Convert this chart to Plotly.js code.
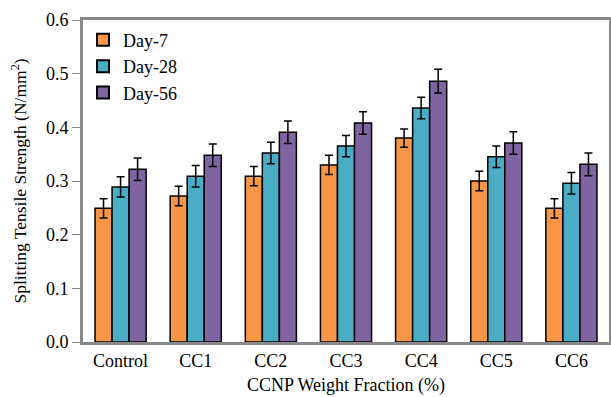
<!DOCTYPE html>
<html><head><meta charset="utf-8">
<script src="https://cdn.plot.ly/plotly-3.0.1.min.js"></script>
<style>body{margin:0;background:#fff}#chart{width:611px;height:397px}</style>
</head><body><div id="chart"></div>
<script>
const categories = ["Control","CC1","CC2","CC3","CC4","CC5","CC6"];
const day7  = [0.249,0.272,0.309,0.330,0.380,0.300,0.249];
const day28 = [0.289,0.309,0.352,0.365,0.436,0.345,0.296];
const day56 = [0.322,0.348,0.391,0.408,0.486,0.371,0.331];
const err7  = [0.018,0.018,0.018,0.018,0.017,0.018,0.018];
const err28 = [0.019,0.020,0.020,0.020,0.020,0.020,0.020];
const err56 = [0.021,0.021,0.021,0.021,0.022,0.021,0.021];
const seriesNames = ["Day-7","Day-28","Day-56"];
const colors = ["#F79646","#4BACC6","#8064A2"];

const vals=[day7,day28,day56], errs=[err7,err28,err56];
const traces = vals.map((v,i)=>({
  type:'bar', name:seriesNames[i], x:categories, y:v,
  marker:{color:colors[i], line:{color:'#000', width:1.5}},
  error_y:{type:'data', array:errs[i], visible:true, color:'#000', thickness:1.5, width:4}
}));
const font = {family:'Liberation Serif, Times New Roman, serif', color:'#000'};
const layout = {
  width:611, height:397,
  margin:{l:83, r:2, t:20, b:55},
  paper_bgcolor:'#fff', plot_bgcolor:'#fff',
  font:Object.assign({size:18}, font),
  barmode:'group', bargap:0.32, bargroupgap:0,
  showlegend:true,
  legend:{x:0.0, y:0.995, xanchor:'left', yanchor:'top', bgcolor:'rgba(0,0,0,0)',
    font:Object.assign({size:18}, font), tracegroupgap:0, itemsizing:'constant'},
  xaxis:{showline:true, linecolor:'#898989', linewidth:3, mirror:true, ticks:'',
    showgrid:false, tickfont:Object.assign({size:18}, font), automargin:false,
    title:{text:'CCNP Weight Fraction (%)', font:Object.assign({size:18}, font), standoff:9}},
  yaxis:{range:[0,0.6], dtick:0.1, tickformat:'.1f', showline:true, linecolor:'#898989', linewidth:3,
    mirror:true, ticks:'outside', ticklen:8, tickcolor:'#898989', tickwidth:1, showgrid:false, zeroline:false,
    tickfont:Object.assign({size:18}, font), automargin:false,
    title:{text:'Splitting Tensile Strength (N/mm<sup>2</sup>)', font:Object.assign({size:17.5}, font), standoff:15}}
};
Plotly.newPlot('chart', traces, layout, {staticPlot:true, displayModeBar:false});
</script></body></html>
